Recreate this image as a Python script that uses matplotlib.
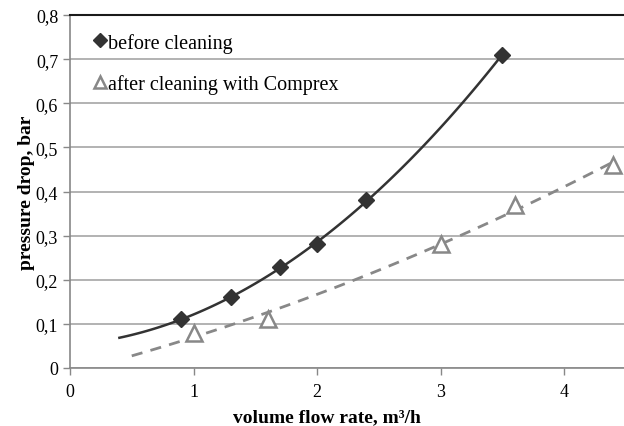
import numpy as np
import matplotlib
matplotlib.use("Agg")
import matplotlib.pyplot as plt
from matplotlib.ticker import FuncFormatter

plt.rcParams['font.family'] = ['Liberation Serif', 'DejaVu Serif']

# measured points
x_before = [0.9, 1.3, 1.7, 2.0, 2.4, 3.5]
y_before = [0.11, 0.16, 0.23, 0.28, 0.38, 0.71]
x_after = [1.0, 1.6, 3.0, 3.6, 4.4]
y_after = [0.08, 0.11, 0.28, 0.37, 0.46]

# trend line ranges (Excel style, with backward forecast)
fit_before_range = (0.4, 3.5)
fit_after_range = (0.5, 4.4)

dark = '#333333'
grey = '#888888'

fig = plt.figure(figsize=(6.24, 4.27), dpi=100)
ax = fig.add_axes([70 / 624, 58 / 427, 1 - 70 / 624, 353 / 427])

# 2nd order polynomial trend lines
p1 = np.polyfit(x_before, y_before, 2)
xf1 = np.linspace(*fit_before_range, 100)
ax.plot(xf1, np.polyval(p1, xf1), color=dark, lw=1.8, zorder=3)

p2 = np.polyfit(x_after, y_after, 2)
xf2 = np.linspace(*fit_after_range, 100)
ax.plot(xf2, np.polyval(p2, xf2), color=grey, lw=2, ls=(0, (4, 3)), zorder=3)

ax.plot(x_before, y_before, ls='none', marker='D', ms=8, color=dark,
        label='before cleaning', zorder=4)
ax.plot(x_after, y_after, ls='none', marker='^', ms=11, mfc='white',
        mec=grey, mew=1.8, label='after cleaning with Comprex', zorder=4,
        clip_on=False)

ax.set_xlim(0, 554 / 123.5)
ax.set_ylim(0, 0.8)
ax.set_xticks([0, 1, 2, 3, 4])
ax.set_yticks(np.arange(0, 0.81, 0.1))
ax.yaxis.set_major_formatter(FuncFormatter(
    lambda v, p: '0' if v == 0 else f'{v:.1f}'.replace('.', ',')))

ax.grid(axis='y', color='#a6a6a6', lw=1.2)
ax.set_axisbelow(True)
for s in ['left', 'bottom']:
    ax.spines[s].set_color('#888888')
    ax.spines[s].set_linewidth(1.2)
ax.spines['right'].set_visible(False)
ax.spines['top'].set_color('#1a1a1a')
ax.spines['top'].set_linewidth(1.5)
ax.tick_params(axis='both', colors='#888888', labelcolor='black',
               labelsize=13, length=5, width=1)
ax.tick_params(axis='x', pad=6)

ax.set_xlabel('volume flow rate, m³/h', fontsize=14, fontweight='bold')
ax.set_ylabel('pressure drop, bar', fontsize=14, fontweight='bold')
ax.xaxis.set_label_coords((327 - 70) / 554, -40 / 353)
ax.yaxis.set_label_coords(-35 / 554, 0.5)

leg = ax.legend(loc='upper left', bbox_to_anchor=(10 / 554, 0.99),
                frameon=False, fontsize=14.5, handlelength=0.6,
                handletextpad=0.1, labelspacing=1.05, borderaxespad=0.3,
                markerscale=0.85)

fig.savefig('out.png', dpi=100)
